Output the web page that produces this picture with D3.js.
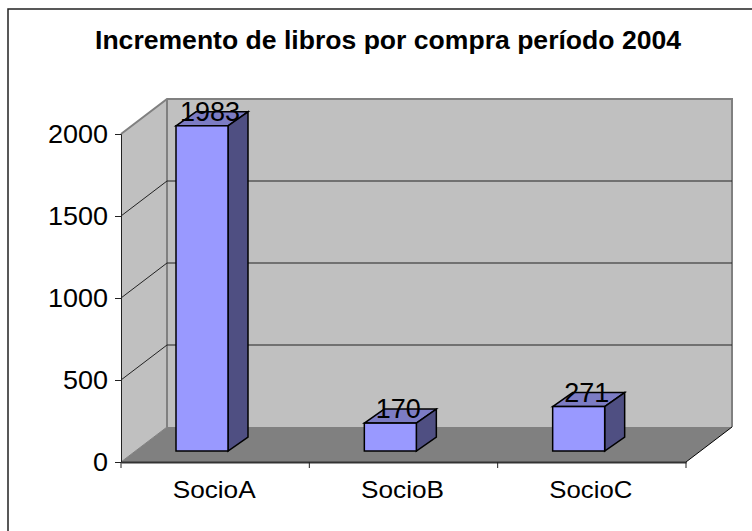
<!DOCTYPE html>
<html>
<head>
<meta charset="utf-8">
<script src="https://cdn.jsdelivr.net/npm/d3@7"></script>
<style>
body { margin: 0; background: #fff; }
text { font-family: "Liberation Sans", Arial, sans-serif; fill: #000; }
</style>
</head>
<body>
<div id="chart"></div>
<script>
var categories = ["SocioA", "SocioB", "SocioC"];
var values = [1983, 170, 271];
var yTicks = [0, 500, 1000, 1500, 2000];
var titleText = "Incremento de libros por compra período 2004";

var width = 752, height = 531;
var plotL = 121, plotR = 686, plotB = 462, plotT = 134;
// depth of the 3d box and of the bars
var depthX = 46, depthY = -35;
var barDX = 20, barDY = -14;

var svg = d3.select("#chart").append("svg")
    .attr("width", width)
    .attr("height", height)
    .style("display", "block");

// outer frame, only top and left are inside the picture
svg.append("polyline")
    .attr("points", "8,531 8,9 752,9")
    .attr("fill", "none")
    .attr("stroke", "#222")
    .attr("stroke-width", 1.5);

svg.append("text")
    .attr("x", 95).attr("y", 49)
    .attr("font-size", 26)
    .attr("font-weight", "bold")
    .attr("textLength", 586)
    .attr("lengthAdjust", "spacingAndGlyphs")
    .text(titleText);

var x = d3.scaleBand().domain(categories).range([plotL, plotR]);
var y = d3.scaleLinear().domain([0, 2000]).range([plotB, plotT]);

function pts(a) { return a.map(function(p) { return p.join(","); }).join(" "); }

// side wall
svg.append("polygon")
    .attr("points", pts([[plotL, plotB], [plotL, plotT], [plotL + depthX, plotT + depthY], [plotL + depthX, plotB + depthY]]))
    .attr("fill", "#c0c0c0");
// back wall
svg.append("rect")
    .attr("x", plotL + depthX).attr("y", plotT + depthY)
    .attr("width", plotR - plotL).attr("height", plotB - plotT)
    .attr("fill", "#c0c0c0");
// floor
svg.append("polygon")
    .attr("points", pts([[plotL, plotB], [plotL + depthX, plotB + depthY], [plotR + depthX, plotB + depthY], [plotR, plotB]]))
    .attr("fill", "#808080");

// wall outline
svg.append("polyline")
    .attr("points", pts([[plotL, plotT], [plotL + depthX, plotT + depthY], [plotR + depthX, plotT + depthY], [plotR + depthX, plotB + depthY]]))
    .attr("fill", "none")
    .attr("stroke", "#808080")
    .attr("stroke-width", 2);
svg.append("line")
    .attr("x1", plotL + depthX).attr("y1", plotT + depthY)
    .attr("x2", plotL + depthX).attr("y2", plotB + depthY)
    .attr("stroke", "#808080")
    .attr("stroke-width", 2);
svg.append("line")
    .attr("x1", plotL).attr("y1", plotB)
    .attr("x2", plotL + depthX).attr("y2", plotB + depthY)
    .attr("stroke", "#808080")
    .attr("stroke-width", 1);
svg.append("line")
    .attr("x1", plotR).attr("y1", plotB)
    .attr("x2", plotR + depthX).attr("y2", plotB + depthY)
    .attr("stroke", "#000")
    .attr("stroke-width", 1);

// grid lines
svg.append("g").selectAll("polyline")
    .data(yTicks.slice(1, 4))
    .enter().append("polyline")
    .attr("points", function(d) {
        return pts([[plotL, y(d)], [plotL + depthX, y(d) + depthY], [plotR + depthX, y(d) + depthY]]);
    })
    .attr("fill", "none")
    .attr("stroke", "#222")
    .attr("stroke-width", 1);

// axes
var yAxis = d3.axisLeft(y).tickValues(yTicks).tickFormat(d3.format("d")).tickSize(6).tickPadding(7);
var gy = svg.append("g")
    .attr("transform", "translate(" + plotL + ",0)")
    .call(yAxis);
gy.select(".domain").attr("stroke", "#222");
gy.selectAll(".tick line").attr("stroke", "#222");
gy.selectAll(".tick text")
    .attr("font-size", 25)
    .attr("font-family", null)
    .attr("textLength", function(d) { return String(d).length * 15; })
    .attr("lengthAdjust", "spacingAndGlyphs");

var xAxis = d3.axisBottom(x).tickSize(0).tickPadding(19);
var gx = svg.append("g")
    .attr("transform", "translate(-1," + plotB + ")")
    .call(xAxis);
gx.select(".domain").attr("stroke", "#333").attr("stroke-width", 2).attr("transform", "translate(1,0)");
gx.selectAll(".tick text")
    .attr("font-size", 24)
    .attr("font-family", null)
    .attr("textLength", 83)
    .attr("lengthAdjust", "spacingAndGlyphs");

// tick marks on band edges
svg.append("g").selectAll("line")
    .data(categories.map(function(d) { return x(d); }).concat([plotR]))
    .enter().append("line")
    .attr("x1", function(d) { return d; }).attr("x2", function(d) { return d; })
    .attr("y1", plotB).attr("y2", plotB + 6)
    .attr("stroke", "#222");

// bars
var barW = 52;
var barOffsetX = 55, barBase = y(0) - 11;
var scaleH = y(0) - y(1);

var bars = svg.append("g").selectAll("g")
    .data(categories)
    .enter().append("g");

function barX(c) { return x(c) + barOffsetX; }
function barTop(i) { return barBase - values[i] * scaleH; }

bars.append("polygon")
    .attr("points", function(c, i) {
        var x0 = barX(c), t = barTop(i);
        return pts([[x0, t], [x0 + barDX, t + barDY], [x0 + barW + barDX, t + barDY], [x0 + barW, t]]);
    })
    .attr("fill", "#7c7cc4")
    .attr("stroke", "#000")
    .attr("stroke-width", 1.5);

bars.append("polygon")
    .attr("points", function(c, i) {
        var x0 = barX(c) + barW, t = barTop(i);
        return pts([[x0, t], [x0 + barDX, t + barDY], [x0 + barDX, barBase + barDY], [x0, barBase]]);
    })
    .attr("fill", "#4f4f82")
    .attr("stroke", "#000")
    .attr("stroke-width", 1.5);

bars.append("rect")
    .attr("x", barX)
    .attr("y", function(c, i) { return barTop(i); })
    .attr("width", barW)
    .attr("height", function(c, i) { return values[i] * scaleH; })
    .attr("fill", "#9999ff")
    .attr("stroke", "#000")
    .attr("stroke-width", 1.5);

bars.append("text")
    .attr("x", function(c) { return barX(c) + barW / 2 + 8; })
    .attr("y", function(c, i) { return barTop(i) - 5; })
    .attr("text-anchor", "middle")
    .attr("font-size", 27)
    .attr("textLength", function(c, i) { return String(values[i]).length * 15; })
    .attr("lengthAdjust", "spacingAndGlyphs")
    .text(function(c, i) { return values[i]; });
</script>
</body>
</html>
